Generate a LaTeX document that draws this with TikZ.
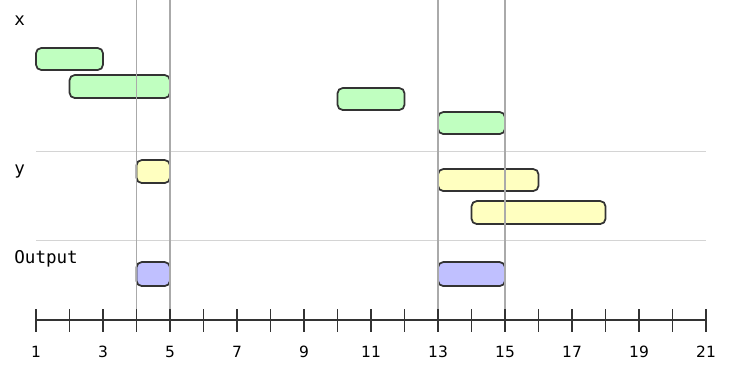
\documentclass[tikz,border=0pt]{standalone}
\usepackage{fontspec}
\setmainfont{DejaVu Sans}
\newfontfamily\monofont{DejaVu Sans Mono}
\definecolor{xfill}{HTML}{C0FFC0}
\definecolor{yfill}{HTML}{FFFFC0}
\definecolor{ofill}{HTML}{C0C0FF}
\definecolor{barline}{HTML}{333333}
\definecolor{rulegray}{HTML}{D4D4D4}
\definecolor{markgray}{HTML}{AAAAAA}

\begin{document}
\begin{tikzpicture}[x=0.67cm, y=-0.02cm]
\tikzstyle{bar}=[draw=barline, line width=1pt, rounded corners=3pt]
\tikzstyle{rowname}=[anchor=west, inner sep=0pt, font=\monofont\fontsize{10}{12}\selectfont]
\tikzstyle{ticklabel}=[inner sep=0pt, font=\fontsize{8.8}{10}\selectfont]
\useasboundingbox (-0.0746,0) rectangle (22.313,375);
% row names
\node[rowname] (xname) at (0.343,21) {x};
\node[rowname] (yname) at (0.343,171) {y};
\node[rowname] (oname) at (0.343,259) {Output};
% separators
\draw [rulegray, line width=0.6pt] (1,151) -- (21,151);
\draw [rulegray, line width=0.6pt] (1,240) -- (21,240);
% x
\draw [bar, fill=xfill] (1,48) rectangle (3,70);
\draw [bar, fill=xfill] (2,75) rectangle (5,98);
\draw [bar, fill=xfill] (10,88) rectangle (12,110);
\draw [bar, fill=xfill] (13,112) rectangle (15,134);
% y
\draw [bar, fill=yfill] (4,160) rectangle (5,183);
\draw [bar, fill=yfill] (13,169) rectangle (16,191);
\draw [bar, fill=yfill] (14,201) rectangle (18,224);
% output
\draw [bar, fill=ofill] (4,262) rectangle (5,286);
\draw [bar, fill=ofill] (13,262) rectangle (15,286);
% overlap marks
\foreach \t in {4,5,13,15}
  \draw [markgray, line width=0.7pt] (\t,0) -- (\t,320);
% axis
\draw [barline, line width=0.85pt] (1,320) -- (21,320);
\foreach \t in {1,...,21}
  \draw [barline, line width=0.85pt] (\t,309) -- (\t,332);
\foreach \t in {1,3,...,21}
  \node[ticklabel] (n\t) at (\t,352) {\t};
\end{tikzpicture}
\end{document}
